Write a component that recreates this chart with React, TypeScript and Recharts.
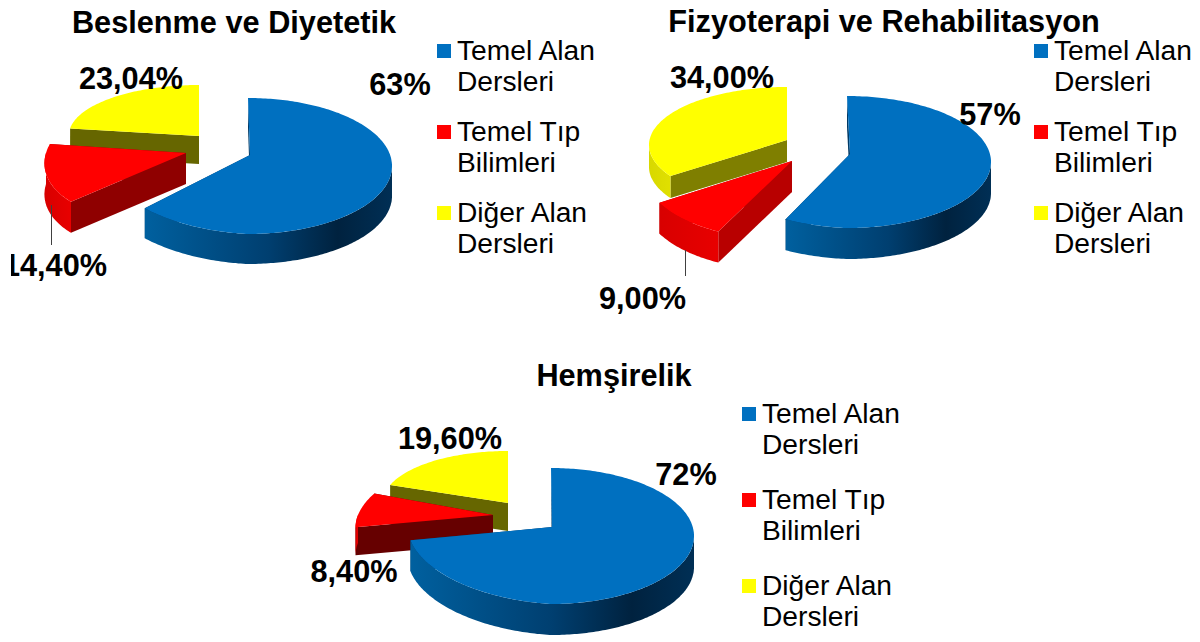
import React from "react";
import { PieChart, Pie, Cell, Legend } from "recharts";

const categories = ["Temel Alan Dersleri", "Temel Tıp Bilimleri", "Diğer Alan Dersleri"];
const fills = ["#0070c0", "#ff0000", "#ffff00"];

const dietValues = [63, 14.4, 23.04];
const physioValues = [57, 9, 34];
const nursingValues = [72, 8.4, 19.6];

const dietLabels = ["63%", "14,40%", "23,04%"];
const physioLabels = ["57%", "9,00%", "34,00%"];
const nursingLabels = ["72%", "8,40%", "19,60%"];

const FONT = "'Liberation Sans', Arial, sans-serif";

type Slice = {
  dx: number; // offset of this wedge from the chart centre (explosion)
  dy: number;
  rx: number;
  ry: number;
  apexDx: number;
  apexDy: number;
  depth: number;
  skew: number;
  tiltLeft?: number; // lifts the left half of the rim, fakes the perspective
  wall: string;
  labelX: number;
  labelY: number;
  leader?: number[];
};

type ChartConfig = {
  id: string;
  title: string;
  titleX: number;
  titleY: number;
  left: number;
  top: number;
  width: number;
  height: number;
  cx: number;
  cy: number;
  legendLeft: number;
  legendTop: number;
  legendGap: number;
  values: number[];
  labels: string[];
  slices: Slice[];
};

const charts: ChartConfig[] = [
  {
    id: "diet",
    title: "Beslenme ve Diyetetik",
    titleX: 223,
    titleY: 33,
    left: 11,
    top: 0,
    width: 589,
    height: 320,
    cx: 237,
    cy: 166,
    legendLeft: 426,
    legendTop: 35,
    legendGap: 19,
    values: dietValues,
    labels: dietLabels,
    slices: [
      { dx: 0, dy: 0, rx: 144, ry: 68, apexDx: 2, apexDy: -11, depth: 30, skew: 0, tiltLeft: 0.05, wall: "#003a66", labelX: 389, labelY: 95 },
      { dx: -62, dy: -13, rx: 140, ry: 70, apexDx: 0, apexDy: 0, depth: 31, skew: -0.3, wall: "#8f0000", labelX: 44, labelY: 276, leader: [40.5, 205, 40.5, 245] },
      { dx: -49, dy: -31, rx: 130, ry: 50, apexDx: 0, apexDy: 1, depth: 28, skew: 0, wall: "#666600", labelX: 120, labelY: 89 },
    ],
  },
  {
    id: "physio",
    title: "Fizyoterapi ve Rehabilitasyon",
    titleX: 283,
    titleY: 32,
    left: 601,
    top: 0,
    width: 599,
    height: 320,
    cx: 246,
    cy: 162,
    legendLeft: 433,
    legendTop: 35,
    legendGap: 19,
    values: physioValues,
    labels: physioLabels,
    slices: [
      { dx: 0, dy: 0, rx: 144, ry: 66, apexDx: 3, apexDy: -8, depth: 31, skew: 0, tiltLeft: 0.04, wall: "#003a66", labelX: 389, labelY: 125 },
      { dx: -55, dy: -1, rx: 150, ry: 78, apexDx: 0, apexDy: 0, depth: 31, skew: -0.14, wall: "#b80000", labelX: 41.5, labelY: 309, leader: [84.5, 250, 84.5, 276] },
      { dx: -60, dy: -17, rx: 138, ry: 58, apexDx: 0, apexDy: -5, depth: 22, skew: 0, wall: "#7f7f00", labelX: 121, labelY: 88 },
    ],
  },
  {
    id: "nursing",
    title: "Hemşirelik",
    titleX: 314,
    titleY: 36,
    left: 300,
    top: 350,
    width: 640,
    height: 292,
    cx: 251,
    cy: 186,
    legendLeft: 442,
    legendTop: 48,
    legendGap: 24,
    values: nursingValues,
    labels: nursingLabels,
    slices: [
      { dx: 0, dy: 0, rx: 143, ry: 68, apexDx: 1, apexDy: -9, depth: 31, skew: 0, tiltLeft: 0.06, wall: "#003a66", labelX: 386, labelY: 135 },
      { dx: -58, dy: -21, rx: 135, ry: 65, apexDx: 0, apexDy: 0, depth: 28, skew: -0.4, wall: "#660000", labelX: 54, labelY: 232 },
      { dx: -43, dy: -34, rx: 125, ry: 51, apexDx: 0, apexDy: 1, depth: 28, skew: 0, wall: "#666600", labelX: 150, labelY: 99 },
    ],
  },
];

const SideGradients = ({ id }: { id: string }) => (
  <defs>
    <linearGradient id={`${id}-side-0`} x1="0" y1="0" x2="1" y2="0">
      <stop offset="0%" stopColor="#00609f" />
      <stop offset="50%" stopColor="#003f70" />
      <stop offset="78%" stopColor="#00223f" />
      <stop offset="100%" stopColor="#002f55" />
    </linearGradient>
    <linearGradient id={`${id}-side-1`} x1="0" y1="0" x2="1" y2="0">
      <stop offset="0%" stopColor="#d80000" />
      <stop offset="100%" stopColor="#e80000" />
    </linearGradient>
    <linearGradient id={`${id}-side-2`} x1="0" y1="0" x2="1" y2="0">
      <stop offset="0%" stopColor="#d8d800" />
      <stop offset="100%" stopColor="#e0e000" />
    </linearGradient>
  </defs>
);

const toPath = (pts: number[][]) =>
  pts.map((p, i) => `${i === 0 ? "M" : "L"}${p[0].toFixed(1)},${p[1].toFixed(1)}`).join(" ") + " Z";

// draws the flat sector recharts computed as an extruded, squashed wedge
const Wedge3D = (props: any, chart: ChartConfig) => {
  const idx = categories.indexOf(props.name ?? props.payload?.name);
  const s = chart.slices[idx];
  const x0 = props.cx + s.dx;
  const y0 = props.cy + s.dy;
  const a0 = Math.min(props.startAngle, props.endAngle);
  const a1 = Math.max(props.startAngle, props.endAngle);

  const rim = (deg: number, drop = 0) => {
    const rad = (deg * Math.PI) / 180;
    const x = s.rx * Math.cos(rad);
    const y = -s.ry * Math.sin(rad);
    const lift = x < 0 ? (s.tiltLeft ?? 0) * x : 0;
    return [x0 + x + s.skew * y, y0 + y + lift + drop];
  };
  const arc = (from: number, to: number, drop = 0) => {
    const pts: number[][] = [];
    const steps = Math.max(2, Math.ceil(to - from));
    for (let i = 0; i <= steps; i++) pts.push(rim(from + ((to - from) * i) / steps, drop));
    return pts;
  };

  const apex = [x0 + s.apexDx, y0 + s.apexDy];
  const apexLow = [apex[0], apex[1] + s.depth];
  const wall = (deg: number) => [apex, rim(deg), rim(deg, s.depth), apexLow];

  const sideFrom = Math.max(a0, 180);
  const sideTo = Math.min(a1, 360);

  return (
    <g>
      <path d={toPath(wall(a0))} fill={s.wall} />
      <path d={toPath(wall(a1))} fill={s.wall} />
      {sideTo > sideFrom && (
        <path
          d={toPath([...arc(sideFrom, sideTo), ...arc(sideFrom, sideTo, s.depth).reverse()])}
          fill={`url(#${chart.id}-side-${idx})`}
        />
      )}
      <path d={toPath([apex, ...arc(a0, a1)])} fill={props.fill} />
    </g>
  );
};

const SliceLabel = (props: any, chart: ChartConfig) => {
  const idx = categories.indexOf(props.name ?? props.payload?.name);
  const s = chart.slices[idx];
  return (
    <g>
      {s.leader && (
        <line x1={s.leader[0]} y1={s.leader[1]} x2={s.leader[2]} y2={s.leader[3]} stroke="#404040" strokeWidth={1} />
      )}
      <text
        x={s.labelX}
        y={s.labelY}
        textAnchor="middle"
        fontFamily={FONT}
        fontWeight="bold"
        fontSize={30.7}
        fill="#000"
      >
        {chart.labels[idx]}
      </text>
    </g>
  );
};

const LegendBox = ({ gap }: { gap: number }) => (
  <div style={{ fontFamily: FONT, fontSize: 28.2, lineHeight: "31px", color: "#000" }}>
    {categories.map((name, i) => (
      <div key={name} style={{ display: "flex", marginBottom: gap }}>
        <span
          style={{
            width: 14,
            height: 14,
            marginTop: 9,
            marginRight: 6,
            flex: "none",
            background: fills[i],
          }}
        />
        <span style={{ width: 150 }}>{name}</span>
      </div>
    ))}
  </div>
);

const ExplodedPie = ({ chart }: { chart: ChartConfig }) => {
  // yellow, red, blue: later wedges must paint over earlier ones
  const data = categories
    .map((name, i) => ({ name, value: chart.values[i], fill: fills[i] }))
    .reverse();

  return (
    <div id={chart.id} style={{ position: "absolute", left: chart.left, top: chart.top }}>
      <PieChart width={chart.width} height={chart.height} margin={{ top: 0, right: 0, bottom: 0, left: 0 }}>
        <SideGradients id={chart.id} />
        <text
          x={chart.titleX}
          y={chart.titleY}
          textAnchor="middle"
          fontFamily={FONT}
          fontWeight="bold"
          fontSize={30.7}
          fill="#000"
        >
          {chart.title}
        </text>
        <Pie
          data={data}
          dataKey="value"
          nameKey="name"
          cx={chart.cx}
          cy={chart.cy}
          outerRadius={chart.slices[0].rx}
          startAngle={90}
          endAngle={450}
          stroke="none"
          labelLine={false}
          label={(p: any) => SliceLabel(p, chart)}
          shape={(p: any) => Wedge3D(p, chart)}
          isAnimationActive={false}
        >
          {data.map((d) => (
            <Cell key={d.name} fill={d.fill} stroke="none" />
          ))}
        </Pie>
        <Legend
          layout="vertical"
          content={() => <LegendBox gap={chart.legendGap} />}
          wrapperStyle={{ left: chart.legendLeft, top: chart.legendTop, width: 170, bottom: "auto" }}
        />
      </PieChart>
    </div>
  );
};

export default function App() {
  return (
    <div style={{ position: "absolute", left: 0, top: 0, width: 1200, height: 642, background: "#fff", overflow: "hidden" }}>
      {/* only the first chart's label is cut by its edge, as in the original */}
      <style>{"#physio svg, #nursing svg { overflow: visible; }"}</style>
      {charts.map((chart) => (
        <ExplodedPie key={chart.id} chart={chart} />
      ))}
    </div>
  );
}
